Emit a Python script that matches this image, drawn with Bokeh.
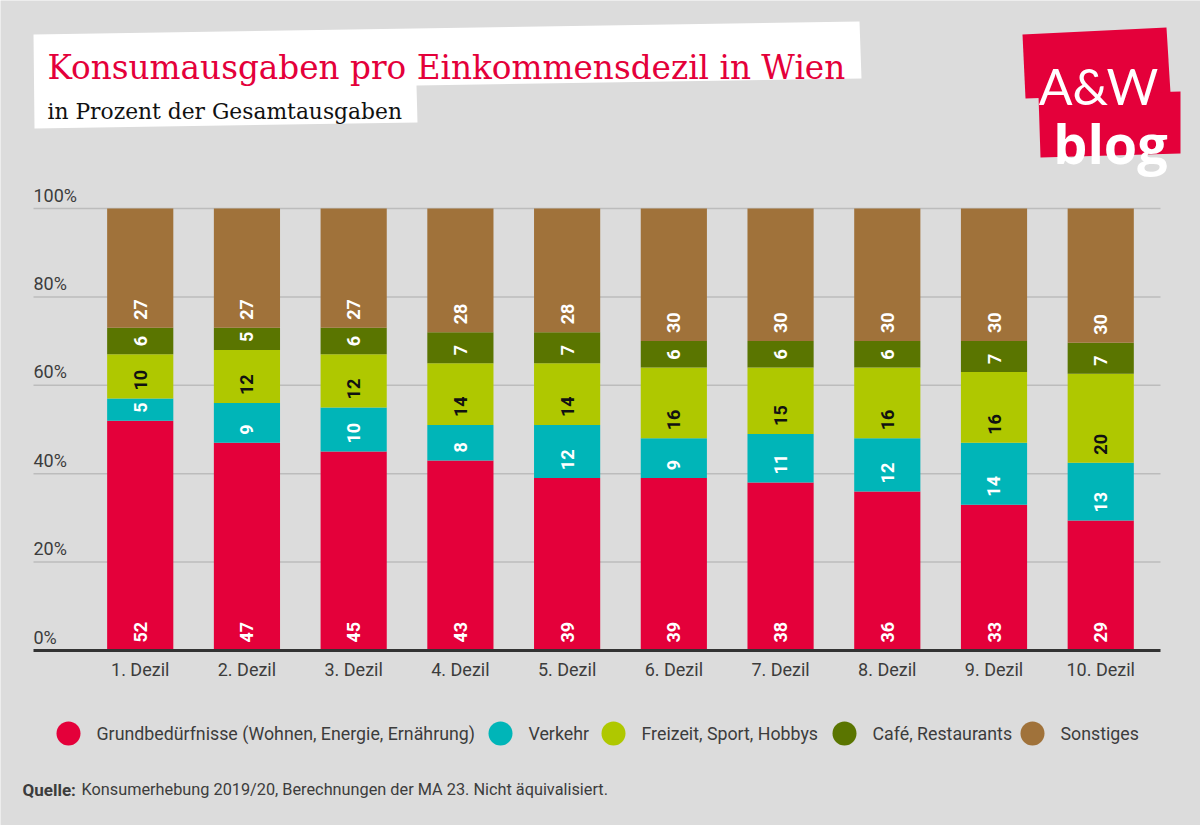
import numpy as np
from bokeh.plotting import figure
from bokeh.models import Range1d, FixedTicker, LabelSet, ColumnDataSource
from bokeh.core.properties import value, field
from bokeh.embed import file_html
from bokeh.resources import INLINE

# ---------------- data ----------------
deciles = ["1. Dezil", "2. Dezil", "3. Dezil", "4. Dezil", "5. Dezil",
           "6. Dezil", "7. Dezil", "8. Dezil", "9. Dezil", "10. Dezil"]
series = ["Grundbedürfnisse (Wohnen, Energie, Ernährung)", "Verkehr",
          "Freizeit, Sport, Hobbys", "Café, Restaurants", "Sonstiges"]
grund = [52, 47, 45, 43, 39, 39, 38, 36, 33, 29.4]
verkehr = [5, 9, 10, 8, 12, 9, 11, 12, 14, 13.1]
freizeit = [10, 12, 12, 14, 14, 16, 15, 16, 16, 20.1]
cafe = [6, 5, 6, 7, 7, 6, 6, 6, 7, 7.0]
sonstiges = [27, 27, 27, 28, 28, 30, 30, 30, 30, 30.4]
y_ticks = [0, 20, 40, 60, 80, 100]
y_tick_labels = ["0%", "20%", "40%", "60%", "80%", "100%"]

title = "Konsumausgaben pro Einkommensdezil in Wien"
subtitle = "in Prozent der Gesamtausgaben"
source_head = "Quelle:"
source_text = "Konsumerhebung 2019/20, Berechnungen der MA 23. Nicht äquivalisiert."

# ---------------- styles ----------------
BG = "#dcdcdc"
RED = "#e4003a"
colors = ["#e4003a", "#00b5b8", "#afc800", "#5a7500", "#a0723a"]
label_colors = ["#ffffff", "#ffffff", "#111111", "#ffffff", "#ffffff"]
TXT = "#3c3c3c"
SANS = "Roboto"
SERIF = "DejaVu Serif"

W, H = 1200, 825
PL, PR, PB = 33, 1160, 650    # plot-area edges in page pixels (left, right, baseline)
PPY = 4.42                    # pixels per percent
X_END = 10.56                 # category units across the plot area
PPX = (PR - PL) / X_END


def X(px):
    return (px - PL) / PPX


def Y(py):
    return (PB - py) / PPY


p = figure(width=W, height=H, x_range=Range1d(X(0), X(W)), y_range=Range1d(Y(H), Y(0)),
           output_backend="svg", toolbar_location=None, y_axis_location=None,
           min_border=0, min_border_left=0, min_border_right=0,
           min_border_top=0, min_border_bottom=0)
p.background_fill_color = BG
p.border_fill_color = BG
p.outline_line_color = None
p.grid.visible = False

# x axis drawn at the 0 % line
xs = list(range(1, len(deciles) + 1))
p.xaxis.fixed_location = 0
p.xaxis.bounds = (0, X_END)
p.xaxis.ticker = FixedTicker(ticks=xs)
p.xaxis.major_label_overrides = {x: d for x, d in zip(xs, deciles)}
p.xaxis.major_tick_line_color = None
p.xaxis.minor_tick_line_color = None
p.xaxis.axis_line_color = "#333333"
p.xaxis.axis_line_width = 3
p.xaxis.major_label_text_font = SANS
p.xaxis.major_label_text_font_size = "18px"
p.xaxis.major_label_text_color = TXT
p.xaxis.major_label_standoff = 2

# horizontal grid lines across the plot area
gy = y_ticks[1:]
p.segment(x0=[0] * len(gy), x1=[X_END] * len(gy), y0=gy, y1=gy,
          line_color="#bcbcbc", line_width=1.5)

# stacked bars
keys = ["g", "v", "f", "c", "s"]
values = [grund, verkehr, freizeit, cafe, sonstiges]
src = ColumnDataSource(dict(x=xs, **{k: v for k, v in zip(keys, values)}))
p.vbar_stack(keys, x="x", width=0.62, fill_color=colors, line_color=None, source=src)

# segment labels (inside base)
lx, ly, lt, lc = [], [], [], []
bottom = np.zeros(len(xs))
for vals, col in zip(values, label_colors):
    arr = np.array(vals, dtype=float)
    for i, x in enumerate(xs):
        lx.append(x)
        ly.append(bottom[i])
        lt.append(str(int(round(arr[i]))))
        lc.append(col)
    bottom = bottom + arr
lab_src = ColumnDataSource(dict(x=lx, y=ly, t=lt, c=lc))
p.add_layout(LabelSet(x="x", y="y", text="t", source=lab_src, angle=np.pi / 2,
                      text_align="left", text_baseline="middle", y_offset=8,
                      text_font=value(SANS), text_font_style="bold",
                      text_font_size="18px", text_color=field("c")))

# y tick labels above the grid lines
yt_src = ColumnDataSource(dict(x=[0.0] * len(y_ticks), y=y_ticks, t=y_tick_labels))
p.add_layout(LabelSet(x="x", y="y", text="t", source=yt_src, text_align="left",
                      text_baseline="bottom", y_offset=3, text_font=value(SANS),
                      text_font_size="18px", text_color=TXT))

# ---------------- header ----------------
tb = [(33, 34), (859, 21), (861, 78), (416, 85), (417, 122), (34, 128)]
p.patch([X(a) for a, b in tb], [Y(b) for a, b in tb], fill_color="white", line_color=None)
lb1 = [(1022, 34), (1166, 27), (1170, 93), (1025, 98)]
lb2 = [(1038, 95), (1180, 91), (1180, 153), (1040, 157)]
for poly in (lb1, lb2):
    p.patch([X(a) for a, b in poly], [Y(b) for a, b in poly], fill_color=RED, line_color=None)
p.text(x=[X(47)], y=[Y(67)], text=[title], text_font=value(SERIF), text_font_size="32.7px",
       text_color=RED, text_baseline="alphabetic")
p.text(x=[X(47)], y=[Y(111)], text=[subtitle], text_font=value(SERIF), text_font_size="21.8px",
       text_color="#111111", text_baseline="alphabetic")
p.text(x=[X(1098)], y=[Y(85)], text=["A&W"], text_font=value("Lato"), text_font_size="50px",
       text_color="white", text_align="center", text_baseline="alphabetic")
p.text(x=[X(1110)], y=[Y(142)], text=["blog"], text_font=value("Open Sans"),
       text_font_style="bold", text_font_size="54px", text_color="white",
       text_align="center", text_baseline="alphabetic")

# ---------------- legend + source ----------------
leg_cx = [68, 500, 613, 844, 1032]
LEG_Y = 733
p.scatter(x=[X(c) for c in leg_cx], y=[Y(LEG_Y)] * len(leg_cx), size=24, marker="circle",
          fill_color=colors, line_color=None)
p.text(x=[X(c + 28) for c in leg_cx], y=[Y(LEG_Y)] * len(series), text=series,
       text_font=value(SANS), text_font_size="17.8px", text_color=TXT,
       text_baseline="middle", text_align="left")
SRC_Y = 789
p.text(x=[X(22)], y=[Y(SRC_Y)], text=[source_head], text_font=value(SANS),
       text_font_style="bold", text_font_size="17px", text_color=TXT,
       text_baseline="middle")
p.text(x=[X(81)], y=[Y(SRC_Y)], text=[source_text], text_font=value(SANS),
       text_font_size="16.3px", text_color=TXT, text_baseline="middle")

open("out.html", "w").write(file_html(p, INLINE))
